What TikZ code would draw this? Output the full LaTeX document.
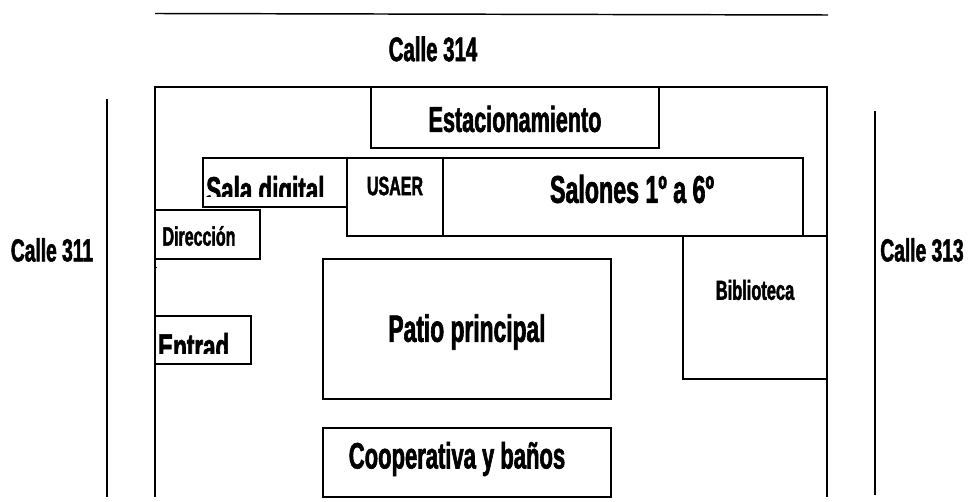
\documentclass[tikz,border=0pt]{standalone}
\usepackage{fontspec}
\newfontfamily\narrowf[FakeStretch=0.6,FakeBold=1.6]{Liberation Sans Bold}
\tikzset{
  x=0.75pt,y=-0.75pt,
  room/.style={draw=black,line width=1.1pt,fill=white},
  lbl/.style={inner sep=0pt,text=black,font=\narrowf\fontsize{#1}{#1}\selectfont},
  wall/.style={draw=black,line width=1.1pt}
}
\begin{document}
\begin{tikzpicture}
\useasboundingbox[fill=white] (0,0) rectangle (969,502);
% streets
\coordinate (topA) at (155,13.5); \coordinate (topB) at (828,15);
\draw[wall] (topA) -- (topB);
\coordinate (leftA) at (107,99); \coordinate (leftB) at (107,497);
\draw[wall] (leftA) -- (leftB);
\coordinate (rightA) at (875,111); \coordinate (rightB) at (875,495);
\draw[wall] (rightA) -- (rightB);
% outer wall
\coordinate (o1) at (155,497); \coordinate (o2) at (155,87);
\coordinate (o3) at (827,87); \coordinate (o4) at (827,497);
\draw[wall] (o1) -- (o2) -- (o3) -- (o4);
\coordinate (t1) at (155,267); \coordinate (t2) at (157,267);
\draw[draw=black,line width=.5pt] (t1) -- (t2);
% rooms
\draw[room] (371,87) rectangle (659,148);
\draw[room] (203,158) rectangle (347,207);
\draw[room] (347,158) rectangle (443,236);
\draw[room] (443,158) rectangle (803,236);
\draw[room] (155,210) rectangle (260,259);
\draw[room] (155,316) rectangle (251,364);
\draw[room] (323,259) rectangle (611,399);
\draw[room] (683,236) rectangle (827,379);
\draw[room] (323,428) rectangle (611,497);
% labels
\node[lbl=25.5] (c314) at (433,49) {Calle 314};
\node[lbl=24] (c311) at (52,250) {Calle 311};
\node[lbl=24] (c313) at (922,250) {Calle 313};
\node[lbl=27] (est) at (515,119) {Estacionamiento};
\begin{scope}
\clip (205,160) rectangle (345,197);
\node[lbl=28,anchor=base west] (sala) at (206,203) {Sala digital};
\end{scope}
\node[lbl=20] (usaer) at (395,186) {USAER};
\node[lbl=29] (sal) at (632,189) {Salones 1º a 6º};
\node[lbl=20] (dir) at (199,236) {Dirección};
\begin{scope}
\clip (157,318) rectangle (249,353);
\node[lbl=28,anchor=base west] (ent) at (158,360) {Entrad};
\end{scope}
\node[lbl=28.5] (patio) at (467,332) {Patio principal};
\node[lbl=20.5] (bib) at (755,290) {Biblioteca};
\node[lbl=27.5] (coop) at (457,459) {Cooperativa y baños};
\end{tikzpicture}
\end{document}
